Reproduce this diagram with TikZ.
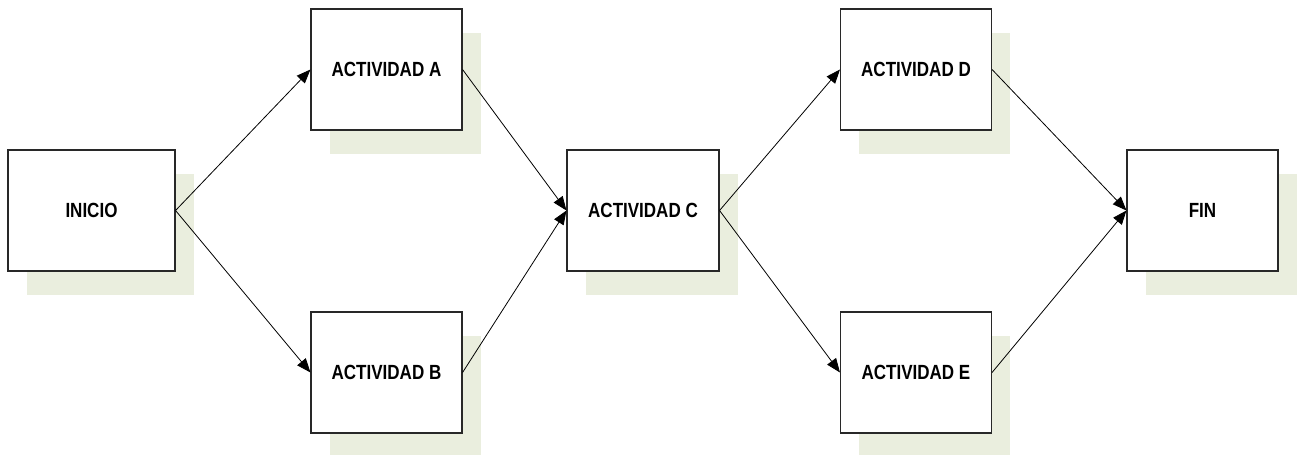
\documentclass[tikz,border=0pt]{standalone}
\usepackage{fontspec}
\setmainfont{Liberation Sans}[FakeStretch=0.83]
\usetikzlibrary{arrows.meta,shadows}
\definecolor{shadowc}{RGB}{234,238,222}
\definecolor{boxline}{RGB}{40,40,40}
\begin{document}
\begin{tikzpicture}[x=1pt,y=-1pt,
  actbox/.style={draw=boxline, line width=1.1pt, fill=white, inner sep=0pt,
    minimum width=151pt, minimum height=121pt,
    font=\fontsize{20.5pt}{24pt}\selectfont\bfseries,
    general shadow={fill=shadowc, shadow xshift=18.5pt, shadow yshift=-23.5pt}},
  conn/.style={draw=black, line width=0.8pt, -{Triangle[length=14pt,width=11pt]}}]
\useasboundingbox (0,0) rectangle (1307,455);
\node[actbox, minimum width=167pt] (ini) at (91.5,210.5) {INICIO};
\node[actbox] (a) at (386.5,69.5) {ACTIVIDAD A};
\node[actbox] (b) at (386.5,372.5) {ACTIVIDAD B};
\node[actbox, minimum width=152pt] (c) at (643,210.5) {ACTIVIDAD C};
\node[actbox] (d) at (916,69.5) {ACTIVIDAD D};
\node[actbox] (e) at (916,372.5) {ACTIVIDAD E};
\node[actbox] (fin) at (1202.5,210.5) {FIN};
\draw[conn] (ini.east) -- (a.west);
\draw[conn] (ini.east) -- (b.west);
\draw[conn] (a.east) -- (c.west);
\draw[conn] (b.east) -- (c.west);
\draw[conn] (c.east) -- (d.west);
\draw[conn] (c.east) -- (e.west);
\draw[conn] (d.east) -- (fin.west);
\draw[conn] (e.east) -- (fin.west);
\end{tikzpicture}
\end{document}
